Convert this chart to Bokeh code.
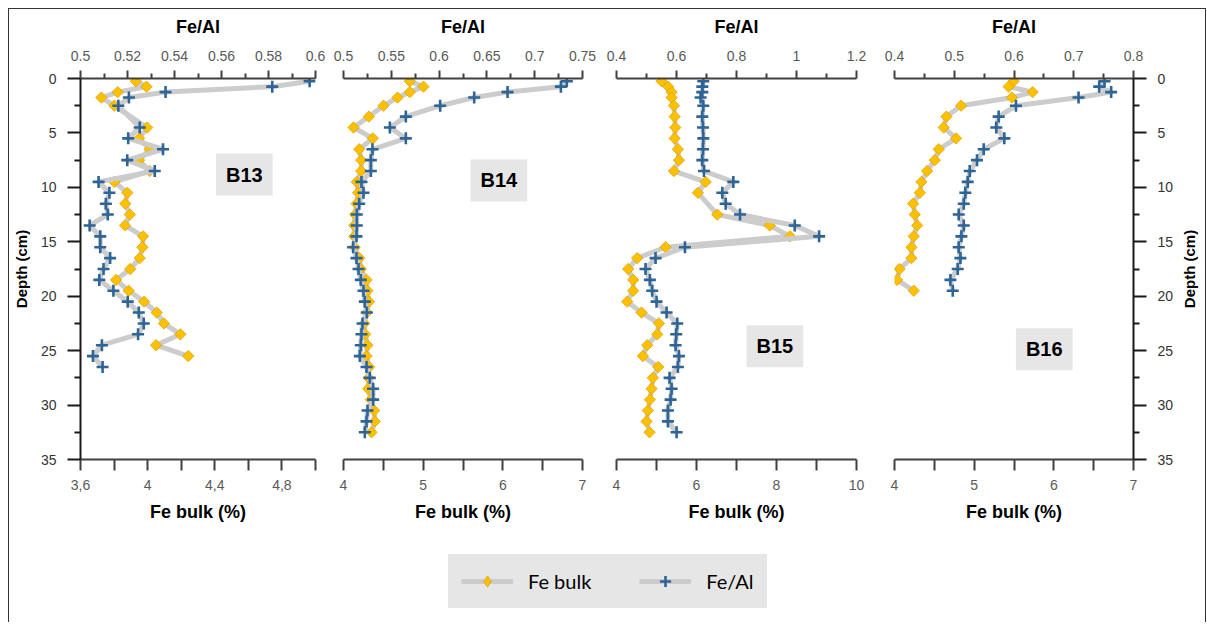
from math import pi
from bokeh.plotting import figure
from bokeh.layouts import row, column
from bokeh.models import Range1d, LinearAxis, FixedTicker, Label, Legend, LegendItem, Title
from bokeh.embed import file_html
from bokeh.resources import INLINE

# ---------------- data ----------------
panel_names = ["B13", "B14", "B15", "B16"]

b13_depth_bulk = [0.25, 0.75, 1.25, 1.75, 2.5, 4.5, 5.5, 6.5, 7.5, 8.5, 9.5, 10.5, 11.5, 12.5,
                  13.5, 14.5, 15.5, 16.5, 17.5, 18.5, 19.5, 20.5, 21.5, 22.5, 23.5, 24.5, 25.5]
b13_bulk = [3.93, 3.993, 3.822, 3.724, 3.802, 3.997, 3.949, 4.012, 3.949, 4.012, 3.802, 3.879,
            3.867, 3.894, 3.865, 3.973, 3.969, 3.953, 3.896, 3.812, 3.887, 3.979, 4.054, 4.097,
            4.195, 4.05, 4.242]
b13_depth_feal = [0.25, 0.75, 1.25, 1.75, 2.5, 4.5, 5.5, 6.5, 7.5, 8.5, 9.5, 10.5, 11.5, 12.5,
                  13.5, 14.5, 15.5, 16.5, 17.5, 18.5, 19.5, 20.5, 21.5, 22.5, 23.5, 24.5, 25.5, 26.5]
b13_feal = [0.5975, 0.5816, 0.5362, 0.5206, 0.5161, 0.5252, 0.5203, 0.5351, 0.5199, 0.5316,
            0.5077, 0.5123, 0.5108, 0.5116, 0.5039, 0.5084, 0.5084, 0.5126, 0.5098, 0.508,
            0.514, 0.5201, 0.5248, 0.5269, 0.5245, 0.5091, 0.5053, 0.5094]

b14_depth_bulk = [0.25, 0.75, 1.25, 1.75, 2.5, 3.5, 4.5, 5.5, 6.5, 7.5, 8.5, 9.5, 10.5, 11.5, 12.5,
                  13.5, 14.5, 15.5, 16.5, 17.5, 18.5, 19.5, 20.5, 21.5, 22.5, 23.5, 24.5, 25.5,
                  26.5, 27.5, 28.5, 29.5, 30.5, 31.5, 32.5]
b14_bulk = [4.833, 5.004, 4.833, 4.678, 4.502, 4.318, 4.126, 4.368, 4.197, 4.222, 4.222, 4.167,
            4.184, 4.163, 4.146, 4.134, 4.134, 4.14, 4.2, 4.218, 4.289, 4.301, 4.322, 4.293,
            4.259, 4.272, 4.301, 4.289, 4.322, 4.314, 4.31, 4.343, 4.385, 4.393, 4.351]
b14_depth_feal = list(b14_depth_bulk)
b14_feal = [0.7336, 0.7274, 0.6716, 0.6367, 0.6011, 0.5652, 0.5485, 0.5652, 0.5303, 0.5286,
            0.5286, 0.5188, 0.5209, 0.5164, 0.5139, 0.5139, 0.5136, 0.5101, 0.5136, 0.5157,
            0.5181, 0.5209, 0.5223, 0.5244, 0.5199, 0.5188, 0.5181, 0.5171, 0.5241, 0.5275,
            0.531, 0.531, 0.5251, 0.5241, 0.5223]

b15_depth_bulk = [0.25, 0.75, 1.25, 1.75, 2.5, 3.5, 4.5, 5.5, 6.5, 7.5, 8.5, 9.5, 10.5, 12.5,
                  13.5, 14.5, 15.5, 16.5, 17.5, 18.5, 19.5, 20.5, 21.5, 22.5, 23.5, 24.5, 25.5,
                  26.5, 27.5, 28.5, 29.5, 30.5, 31.5, 32.5]
b15_bulk = [5.127, 5.293, 5.377, 5.377, 5.435, 5.452, 5.469, 5.452, 5.535, 5.56, 5.435, 6.228,
            6.036, 6.52, 7.83, 8.34, 5.227, 4.517, 4.292, 4.417, 4.417, 4.267, 4.626, 5.06,
            5.018, 4.768, 4.659, 5.043, 4.91, 4.876, 4.835, 4.784, 4.751, 4.826]
b15_depth_feal = [0.25, 0.75, 1.25, 1.75, 2.5, 3.5, 4.5, 5.5, 6.5, 7.5, 8.5, 9.5, 10.5, 11.5, 12.5,
                  13.5, 14.5, 15.5, 16.5, 17.5, 18.5, 19.5, 20.5, 21.5, 22.5, 23.5, 24.5, 25.5,
                  26.5, 27.5, 28.5, 29.5, 30.5, 31.5, 32.5]
b15_feal = [0.6893, 0.686, 0.686, 0.6804, 0.6893, 0.686, 0.6882, 0.6893, 0.6882, 0.686, 0.6915,
            0.7894, 0.7527, 0.7639, 0.8117, 0.9942, 1.0754, 0.6281, 0.5302, 0.4968, 0.5113,
            0.519, 0.5335, 0.5669, 0.6025, 0.5992, 0.597, 0.6081, 0.6047, 0.5769, 0.5836,
            0.5803, 0.5714, 0.5714, 0.6003]

b16_depth_bulk = [0.25, 0.75, 1.25, 1.75, 2.5, 3.5, 4.5, 5.5, 6.5, 7.5, 8.5, 9.5, 10.5, 11.5, 12.5,
                  13.5, 14.5, 15.5, 16.5, 17.5, 18.5, 19.5]
b16_bulk = [5.496, 5.433, 5.734, 5.475, 4.836, 4.652, 4.618, 4.773, 4.556, 4.506, 4.409, 4.338,
            4.318, 4.234, 4.255, 4.284, 4.242, 4.213, 4.213, 4.063, 4.033, 4.242]
b16_depth_feal = list(b16_depth_bulk)
b16_feal = [0.7515, 0.7426, 0.7626, 0.708, 0.6033, 0.5743, 0.5704, 0.5838, 0.5493, 0.5381,
            0.5259, 0.5225, 0.5186, 0.5159, 0.5075, 0.5159, 0.512, 0.5075, 0.5103, 0.5058,
            0.4936, 0.4975]

# axis ranges and tick labels
bulk_ranges = [(3.6, 5.0), (4, 7), (4, 10), (4, 7)]
feal_ranges = [(0.5, 0.6), (0.5, 0.75), (0.4, 1.2), (0.4, 0.8)]

bulk_ticks = [[3.6, 3.8, 4, 4.2, 4.4, 4.6, 4.8, 5],
              [4, 4.5, 5, 5.5, 6, 6.5, 7],
              [4, 5, 6, 7, 8, 9, 10],
              [4, 4.5, 5, 5.5, 6, 6.5, 7]]
bulk_tick_labels = [["3,6", "", "4", "", "4,4", "", "4,8", ""],
                    ["4", "", "5", "", "6", "", "7"],
                    ["4", "", "6", "", "8", "", "10"],
                    ["4", "", "5", "", "6", "", "7"]]
feal_ticks = [[0.5, 0.52, 0.54, 0.56, 0.58, 0.6],
              [0.5, 0.55, 0.6, 0.65, 0.7, 0.75],
              [0.4, 0.6, 0.8, 1, 1.2],
              [0.4, 0.5, 0.6, 0.7, 0.8]]
feal_tick_labels = [["0.5", "0.52", "0.54", "0.56", "0.58", "0.6"],
                    ["0.5", "0.55", "0.6", "0.65", "0.7", "0.75"],
                    ["0.4", "0.6", "0.8", "1", "1.2"],
                    ["0.4", "0.5", "0.6", "0.7", "0.8"]]
feal_minor = [[0.51, 0.53, 0.55, 0.57, 0.59],
              [0.525, 0.575, 0.625, 0.675, 0.725],
              [0.5, 0.7, 0.9, 1.1],
              [0.45, 0.55, 0.65, 0.75]]
depth_ticks = [0, 5, 10, 15, 20, 25, 30, 35]
depth_minor = [2.5, 7.5, 12.5, 17.5, 22.5, 27.5, 32.5]

series_bulk = [(b13_depth_bulk, b13_bulk), (b14_depth_bulk, b14_bulk),
               (b15_depth_bulk, b15_bulk), (b16_depth_bulk, b16_bulk)]
series_feal = [(b13_depth_feal, b13_feal), (b14_depth_feal, b14_feal),
               (b15_depth_feal, b15_feal), (b16_depth_feal, b16_feal)]

# ---------------- style / layout ----------------
FONT = "Liberation Sans"
YELLOW = "#FFC000"
YELLOW_EDGE = "#D9A300"
BLUE = "#2E6496"
GREY = "#CCCCCC"
TICK_COL = "#595959"
LEG_BG = "#E6E6E6"

borders_lr = [(68, 15), (13, 14), (20, 12), (26, 45)]
frame_w = [238, 239, 240, 239]
SIDE_W = 27
H_ROW = 521
H_LEG = 92
name_pos = [(4.576, 8.82), (5.95, 9.37), (7.96, 24.6), (5.88, 24.87)]
NAN = float("nan")


def style_x_axis(ax, tick_out, minor_out, std, lab_std):
    ax.axis_line_color = "#404040"
    ax.axis_line_width = 2
    ax.major_tick_line_color = "#404040"
    ax.major_tick_line_width = 2
    ax.minor_tick_line_color = "#404040"
    ax.minor_tick_line_width = 2
    ax.major_tick_in = 0
    ax.major_tick_out = tick_out
    ax.minor_tick_in = 0
    ax.minor_tick_out = minor_out
    ax.major_label_text_font = FONT
    ax.major_label_text_font_size = "14px"
    ax.major_label_text_color = TICK_COL
    ax.major_label_standoff = std
    ax.axis_label_text_font = FONT
    ax.axis_label_text_font_size = "18px"
    ax.axis_label_text_font_style = "bold"
    ax.axis_label_text_color = "#000000"
    ax.axis_label_standoff = lab_std


def style_depth_axis(ax):
    ax.ticker = FixedTicker(ticks=depth_ticks, minor_ticks=depth_minor)
    ax.axis_line_color = "#1A1A1A"
    ax.axis_line_width = 2
    ax.major_tick_line_color = "#1A1A1A"
    ax.major_tick_line_width = 2
    ax.minor_tick_line_color = "#1A1A1A"
    ax.minor_tick_line_width = 2
    ax.major_tick_in = 0
    ax.major_tick_out = 13
    ax.minor_tick_in = 0
    ax.minor_tick_out = 6
    ax.major_label_text_font = FONT
    ax.major_label_text_font_size = "14px"
    ax.major_label_text_color = "#333333"
    ax.major_label_standoff = 11
    ax.axis_label_text_font = FONT
    ax.axis_label_text_font_size = "15px"
    ax.axis_label_text_font_style = "bold"
    ax.axis_label_text_color = "#000000"
    ax.axis_label_standoff = 8


panels = []
for i in range(4):
    yloc = "left" if i == 0 else ("right" if i == 3 else None)
    bl, br = borders_lr[i]
    p = figure(width=bl + frame_w[i] + br, height=H_ROW,
               x_range=Range1d(*bulk_ranges[i]), y_range=Range1d(35, 0),
               y_axis_location=yloc, output_backend="svg", toolbar_location=None,
               min_border_left=bl, min_border_right=br,
               min_border_top=69, min_border_bottom=71)
    p.extra_x_ranges = {"feal": Range1d(*feal_ranges[i])}
    p.outline_line_color = None
    p.background_fill_color = "white"
    p.border_fill_color = "white"
    p.xgrid.visible = False
    p.ygrid.visible = False

    xb = p.xaxis[0]
    xb.ticker = FixedTicker(ticks=bulk_ticks[i], minor_ticks=[])
    xb.major_label_overrides = {t: l for t, l in zip(bulk_ticks[i], bulk_tick_labels[i])}
    xb.axis_label = "Fe bulk (%)"
    style_x_axis(xb, 11, 0, 9, 9)

    xt = LinearAxis(x_range_name="feal", axis_label="Fe/Al",
                    ticker=FixedTicker(ticks=feal_ticks[i], minor_ticks=feal_minor[i]))
    xt.major_label_overrides = {t: l for t, l in zip(feal_ticks[i], feal_tick_labels[i])}
    style_x_axis(xt, 8, 5, 10, 11)
    p.add_layout(xt, "above")

    if i == 0:
        ya = p.yaxis[0]
        style_depth_axis(ya)
        ya.axis_label = "Depth (cm)"
    elif i == 3:
        style_depth_axis(p.yaxis[0])

    db, vb = series_bulk[i]
    df, vf = series_feal[i]
    p.line(vb, db, line_color=GREY, line_width=5, line_join="round")
    p.scatter(vb, db, marker="square", angle=pi / 4, size=8, fill_color=YELLOW,
              line_color=YELLOW_EDGE, line_width=0.8)
    p.line(vf, df, x_range_name="feal", line_color=GREY, line_width=5, line_join="round")
    p.scatter(vf, df, x_range_name="feal", marker="cross", size=12, line_color=BLUE,
              line_width=2.6)

    nx, ny = name_pos[i]
    p.add_layout(Label(x=nx, y=ny, text=panel_names[i], text_align="center",
                       text_baseline="middle", text_font=FONT, text_font_size="20px",
                       text_font_style="bold", text_color="#000000",
                       background_fill_color=LEG_BG, padding=10))
    panels.append(p)

# narrow strip holding the right-hand depth title (reads bottom-to-top, centred on the frame)
side = figure(width=SIDE_W, height=H_ROW, x_range=Range1d(0, 1), y_range=Range1d(0, 1),
              x_axis_location=None, y_axis_location=None, output_backend="svg",
              toolbar_location=None, min_border_left=0, min_border_right=0,
              min_border_top=69, min_border_bottom=71)
side.outline_line_color = None
side.xgrid.visible = False
side.ygrid.visible = False
side.add_layout(Title(text="Depth (cm)", align="center", text_font=FONT,
                      text_font_size="15px", text_font_style="bold",
                      text_color="#000000", standoff=0), "left")

# legend figure (renderers hold no visible data; they only supply the legend glyphs)
total_w = sum(bl + fw + br for (bl, br), fw in zip(borders_lr, frame_w)) + SIDE_W
fl = figure(width=total_w, height=H_LEG, x_range=Range1d(0, 1), y_range=Range1d(0, 1),
            x_axis_location=None, y_axis_location=None, output_backend="svg",
            toolbar_location=None, min_border=0)
fl.outline_line_color = None
fl.xgrid.visible = False
fl.ygrid.visible = False
l1 = fl.line([NAN], [NAN], line_color=GREY, line_width=5)
s1 = fl.scatter([NAN], [NAN], marker="diamond", size=12, fill_color=YELLOW,
                line_color=YELLOW_EDGE, line_width=0.8)
l2 = fl.line([NAN], [NAN], line_color=GREY, line_width=5)
s2 = fl.scatter([NAN], [NAN], marker="cross", size=12, line_color=BLUE, line_width=2.6)
legend = Legend(items=[LegendItem(label="Fe bulk", renderers=[l1, s1]),
                       LegendItem(label="Fe/Al", renderers=[l2, s2])],
                orientation="horizontal", location=(439, 14), margin=0, padding=0,
                spacing=48, glyph_width=52, glyph_height=28, label_height=28,
                label_standoff=15,
                label_text_font="Lato", label_text_font_size="20px",
                label_text_color="#000000", background_fill_color=LEG_BG,
                background_fill_alpha=1.0, border_line_color=LEG_BG,
                border_line_width=13, border_line_join="miter")
fl.add_layout(legend, "center")

layout = column(row(*panels, side), fl,
                styles={"margin-left": "8px", "margin-top": "8px",
                        "border-left": "1px solid #333", "border-top": "1px solid #333",
                        "border-right": "1px solid #333"})

open("out.html", "w").write(file_html(layout, INLINE))
